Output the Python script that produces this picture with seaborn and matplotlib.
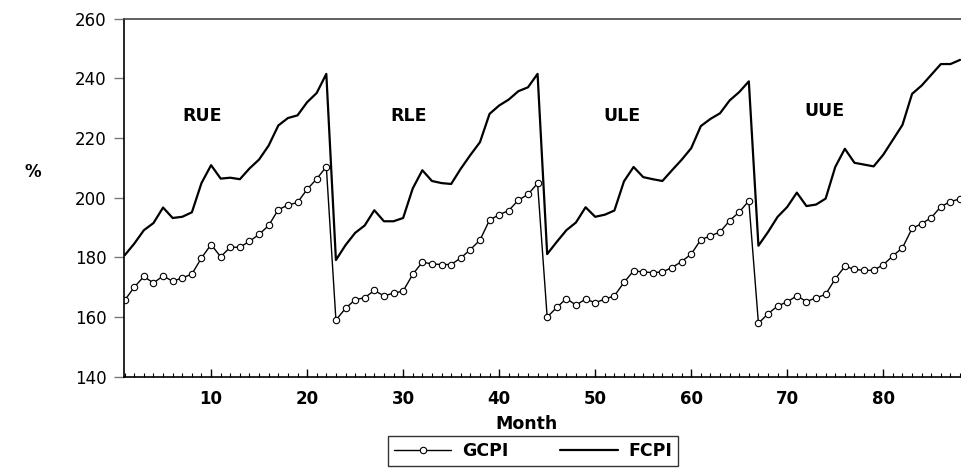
import numpy as np
import pandas as pd
import matplotlib
matplotlib.use("Agg")
import matplotlib.pyplot as plt
import seaborn as sns

months = list(range(1, 89))

gcpi = [165.6, 170.0, 173.6, 171.4, 173.8, 172.0, 173.1, 174.4, 179.8, 184.3, 180.2, 183.4, 183.4, 185.4, 187.7, 190.7, 196.0, 197.5, 198.4, 202.8, 206.3, 210.4,
        159.0, 162.9, 165.8, 166.5, 168.9, 167.1, 168.0, 168.7, 174.3, 178.4, 177.8, 177.6, 177.6, 179.8, 182.6, 185.8, 192.5, 194.3, 195.7, 199.2, 201.1, 204.8,
        160.0, 163.2, 166.2, 164.0, 166.0, 164.8, 166.0, 167.1, 171.6, 175.5, 175.1, 174.9, 175.1, 176.6, 178.6, 181.1, 185.9, 187.2, 188.5, 192.3, 195.2, 198.9,
        157.9, 161.1, 163.7, 165.1, 167.1, 165.2, 166.4, 167.6, 172.8, 177.0, 176.0, 175.6, 175.7, 177.5, 180.5, 183.2, 189.7, 191.3, 193.3, 197.0, 198.7, 199.6]

fcpi = [180.7, 184.6, 189.1, 191.5, 196.7, 193.2, 193.6, 195.1, 204.9, 210.9, 206.4, 206.7, 206.2, 209.8, 212.8, 217.5, 224.2, 226.7, 227.6, 232.0, 235.1, 241.5,
        179.1, 184.1, 188.2, 190.7, 195.8, 192.1, 192.1, 193.2, 203.1, 209.2, 205.6, 204.9, 204.6, 209.7, 214.3, 218.6, 228.1, 230.9, 232.9, 235.7, 237.0, 241.5,
        181.1, 185.2, 189.1, 191.7, 196.8, 193.6, 194.3, 195.7, 205.5, 210.3, 206.9, 206.2, 205.6, 209.2, 212.7, 216.6, 224.0, 226.4, 228.3, 232.6, 235.4, 239.0,
        183.9, 188.5, 193.6, 196.9, 201.7, 197.2, 197.7, 199.7, 210.3, 216.4, 211.7, 211.1, 210.5, 214.4, 219.4, 224.4, 234.8, 237.6, 241.2, 244.8, 244.8, 246.2]

regime_labels = ["RUE", "RLE", "ULE", "UUE"]
x_ticks = [10, 20, 30, 40, 50, 60, 70, 80]
y_ticks = [140, 160, 180, 200, 220, 240, 260]

sns.set_theme(style="ticks")
plt.rcParams['font.family'] = ['DejaVu Sans']
plt.rcParams['text.color'] = 'black'
plt.rcParams['axes.labelcolor'] = 'black'
plt.rcParams['xtick.color'] = 'black'
plt.rcParams['ytick.color'] = 'black'

df = pd.DataFrame({"Month": months, "GCPI": gcpi, "FCPI": fcpi})

fig = plt.figure(figsize=(9.62, 4.68), dpi=100)
ax = fig.add_axes([123.7 / 962, 1 - 376.7 / 468, 1 - 123.7 / 962, (376.7 - 18.7) / 468])

sns.lineplot(data=df, x="Month", y="GCPI", ax=ax, color="black", linewidth=1.0,
             marker="o", markersize=4.6, markerfacecolor="white",
             markeredgecolor="black", markeredgewidth=0.8, label="GCPI", legend=False)
sns.lineplot(data=df, x="Month", y="FCPI", ax=ax, color="black", linewidth=1.6,
             label="FCPI", legend=False)

ax.set_xlim(0.9, 88.2)
ax.set_ylim(140, 260)
ax.set_xticks(x_ticks)
ax.set_xticks(months, minor=True)
ax.set_yticks(y_ticks)

for lab in ax.get_xticklabels():
    lab.set_fontweight("bold")
ax.tick_params(axis="x", which="major", direction="in", length=6, width=1,
               labelsize=12, pad=9.5, colors="black")
ax.tick_params(axis="x", which="minor", direction="in", length=3, width=0.8, color="black")
ax.tick_params(axis="y", which="major", direction="out", length=7, width=1,
               color="#777777", labelcolor="black", labelsize=12, pad=5.5)
ax.tick_params(axis="y", which="minor", left=False)

ax.spines["right"].set_visible(False)
ax.spines["top"].set_color("#444444")
ax.spines["top"].set_linewidth(1.2)
ax.spines["left"].set_color("black")
ax.spines["left"].set_linewidth(1.2)
ax.spines["bottom"].set_color("black")
ax.spines["bottom"].set_linewidth(1.2)

ax.set_xlabel("")
ax.set_ylabel("")
fig.text(527 / 962, 1 - 429.3 / 468, "Month", fontsize=12.5, fontweight="bold",
         ha="center", va="baseline", color="black")
fig.text(33 / 962, 1 - 177 / 468, "%", fontsize=12, fontweight="bold",
         ha="center", va="baseline", color="black")

label_pos = [(9.08, 225.7), (30.6, 225.7), (52.8, 225.7), (73.9, 227.4)]
for txt, (lx, ly) in zip(regime_labels, label_pos):
    ax.text(lx, ly, txt, fontsize=12.5, fontweight="bold", ha="center",
            va="baseline", color="black")

handles, labels = ax.get_legend_handles_labels()
leg = fig.legend(handles, labels, loc="center",
                 bbox_to_anchor=(533 / 962, 1 - 451 / 468), ncol=2,
                 frameon=True, fancybox=False, edgecolor="black",
                 prop={"weight": "bold", "size": 12.5},
                 handlelength=3.3, handletextpad=0.6, columnspacing=3.0,
                 borderpad=0.35, borderaxespad=0)
leg.get_frame().set_linewidth(1.0)
for t in leg.get_texts():
    t.set_color("black")

fig.savefig("out.png", dpi=100)
